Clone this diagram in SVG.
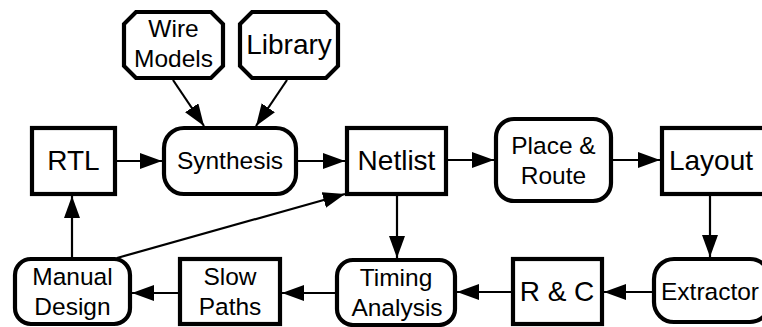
<svg xmlns="http://www.w3.org/2000/svg" width="762" height="327" viewBox="0 0 762 327">
  <style>
    .box { fill: #ffffff; stroke: #000000; stroke-width: 4.2; }
    .lbl { font-family: "Liberation Sans", Arial, sans-serif; fill: #000000; text-anchor: middle; }
    .big { font-size: 28px; }
    .small { font-size: 24.5px; }
    .edge { fill: none; stroke: #000000; stroke-width: 2.2; marker-end: url(#arrow); }
  </style>
  <defs>
    <marker id="arrow" markerUnits="userSpaceOnUse" markerWidth="24" markerHeight="18" refX="22" refY="8" orient="auto">
      <path d="M0,0 L22,8 L0,16 Z" fill="#000000"/>
    </marker>
  </defs>
  <rect width="762" height="327" fill="#ffffff"/>

  <g id="connectors">
    <line class="edge" x1="117" y1="161" x2="162" y2="161"/>
    <line class="edge" x1="298" y1="161" x2="345" y2="161"/>
    <line class="edge" x1="448" y1="160" x2="494" y2="160"/>
    <line class="edge" x1="613" y1="160" x2="660" y2="160"/>
    <line class="edge" x1="173" y1="80" x2="204" y2="126"/>
    <line class="edge" x1="287" y1="80" x2="256" y2="126"/>
    <line class="edge" x1="397" y1="196" x2="397" y2="258"/>
    <line class="edge" x1="710" y1="196" x2="710" y2="257"/>
    <line class="edge" x1="652" y1="292" x2="604" y2="292"/>
    <line class="edge" x1="511" y1="292" x2="457" y2="292"/>
    <line class="edge" x1="335" y1="293" x2="282" y2="293"/>
    <line class="edge" x1="178" y1="293" x2="132" y2="293"/>
    <line class="edge" x1="72" y1="258" x2="72" y2="196"/>
    <line class="edge" x1="117" y1="258" x2="345" y2="194"/>
  </g>

  <g id="wire-models">
    <polygon class="box" points="136,12 211,12 223,24 223,66 211,78 136,78 124,66 124,24"/>
    <text class="lbl small" x="173.5" y="37">Wire</text>
    <text class="lbl small" x="173.5" y="67">Models</text>
  </g>
  <g id="library">
    <polygon class="box" points="252,12 326,12 338,24 338,66 326,78 252,78 240,66 240,24"/>
    <text class="lbl big" x="289" y="54">Library</text>
  </g>

  <g id="rtl">
    <rect class="box" x="32" y="128" width="83" height="66"/>
    <text class="lbl big" x="73.5" y="170">RTL</text>
  </g>
  <g id="synthesis">
    <rect class="box" x="164" y="128" width="132" height="66" rx="20" ry="20"/>
    <text class="lbl small" x="230" y="169">Synthesis</text>
  </g>
  <g id="netlist">
    <rect class="box" x="347" y="128" width="99" height="66"/>
    <text class="lbl big" x="396.5" y="170">Netlist</text>
  </g>
  <g id="place-route">
    <rect class="box" x="496" y="119" width="115" height="82" rx="18" ry="18"/>
    <text class="lbl small" x="553.5" y="154">Place &amp;</text>
    <text class="lbl small" x="553.5" y="184">Route</text>
  </g>
  <g id="layout">
    <rect class="box" x="662" y="128" width="104" height="66"/>
    <text class="lbl big" x="711" y="170">Layout</text>
  </g>

  <g id="manual-design">
    <rect class="box" x="15" y="259" width="115" height="65" rx="16" ry="16"/>
    <text class="lbl small" x="72.5" y="285">Manual</text>
    <text class="lbl small" x="72.5" y="315">Design</text>
  </g>
  <g id="slow-paths">
    <rect class="box" x="180" y="259" width="100" height="65"/>
    <text class="lbl small" x="230" y="285">Slow</text>
    <text class="lbl small" x="230" y="315">Paths</text>
  </g>
  <g id="timing-analysis">
    <rect class="box" x="337" y="260" width="118" height="65" rx="16" ry="16"/>
    <text class="lbl small" x="396" y="286">Timing</text>
    <text class="lbl small" x="397" y="316">Analysis</text>
  </g>
  <g id="r-and-c">
    <rect class="box" x="513" y="259" width="89" height="65"/>
    <text class="lbl big" x="557" y="301">R &amp; C</text>
  </g>
  <g id="extractor">
    <rect class="box" x="654" y="259" width="116" height="63" rx="20" ry="20"/>
    <text class="lbl small" x="710" y="300">Extractor</text>
  </g>
</svg>
